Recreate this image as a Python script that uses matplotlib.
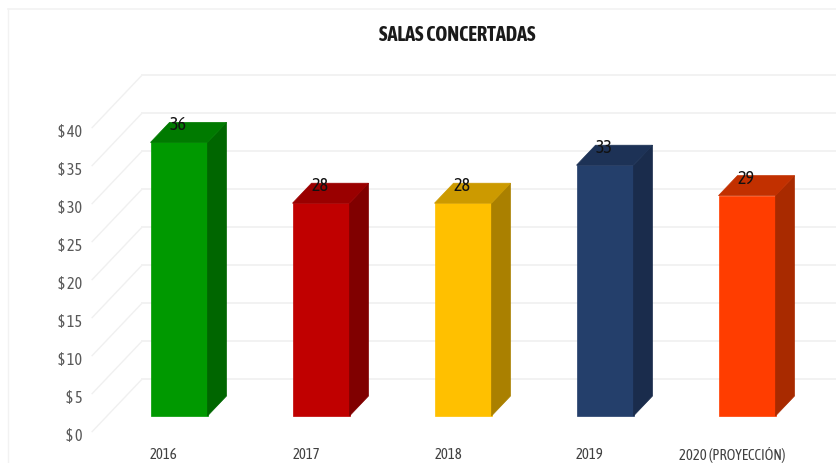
import logging
import matplotlib
matplotlib.use('Agg')
import matplotlib.pyplot as plt
from matplotlib.patches import Polygon

logging.getLogger('matplotlib.font_manager').setLevel(logging.ERROR)

years = ['2016', '2017', '2018', '2019', '2020 (PROYECCIÓN)']
values = [36, 28, 28, 33, 29]
labels = ['36', '28', '28', '33', '29']
front_colors = ['#009900', '#C00000', '#FFC000', '#243F6B', '#FF3D00']
top_colors = ['#007A00', '#9A0000', '#CC9A00', '#1D3256', '#C23000']
side_colors = ['#006600', '#800000', '#AA8000', '#1A2C4C', '#A82A00']
y_ticks = [0, 5, 10, 15, 20, 25, 30, 35, 40]

plt.rcParams['font.family'] = ['Asap Condensed', 'Lato', 'DejaVu Sans']

W, H = 836, 463
fig = plt.figure(figsize=(W / 100, H / 100), dpi=100)
ax = fig.add_axes([0, 0, 1, 1])

# one x unit = 142 px, one y unit = 7.6 px, bar front base sits at pixel (179, 416)
xu, yu = 142, 7.6
ax.set_xlim(-179 / xu, (W - 179) / xu)
ax.set_ylim(-(H - 416) / yu, 416 / yu)
ax.axis('off')

# depth step: one bar depth is 19 px right and 20 px up
ddx, ddy = 19 / xu, 20 / yu
bw = 57 / xu


def pt(x, y, d=0):
    return (x + d * ddx, y + d * ddy)


# outer frame of the chart area
ax.plot([-171 / xu, -171 / xu], [-(H - 416) / yu, 407 / yu], color='#F2F2F2', lw=1)
ax.plot([-171 / xu, (W - 179) / xu], [407 / yu, 407 / yu], color='#F2F2F2', lw=1.2)

# walls and grid
wall_d = 1.85
front_d = -0.78
left = -72 / xu
right = (W - 179) / xu
for t in y_ticks:
    x0, y0 = pt(left, t, front_d)
    x1, y1 = pt(left, t, wall_d)
    ax.plot([x0, x1], [y0, y1], color='#F0F0F0', lw=1, zorder=1)
    ax.plot([x1, right], [y1, y1], color='#F2F2F2', lw=1.4, zorder=1)
    ax.text(-97 / xu, t - 20 / yu, '$ %d' % t, ha='right', va='center',
            fontsize=11.5, color='#595959')

# bars
for i, v in enumerate(values):
    l, r = i - bw / 2, i + bw / 2
    ax.add_patch(Polygon([pt(l, 0), pt(r, 0), pt(r, v), pt(l, v)], color=front_colors[i], lw=0.5, zorder=3))
    ax.add_patch(Polygon([pt(r, 0), pt(r, 0, 1), pt(r, v, 1), pt(r, v)], color=side_colors[i], lw=0.5, zorder=3))
    ax.add_patch(Polygon([pt(l, v), pt(r, v), pt(r, v, 1), pt(l, v, 1)], color=top_colors[i], lw=0.5, zorder=3))
    ax.text(i - 1 / xu, v + 17 / yu, labels[i], ha='center', va='center', fontsize=13, color='#111111', zorder=4)
    ax.text(i - 15 / xu, -39 / yu, years[i], ha='center', va='center', fontsize=10.5, color='#404040')

ax.text(278 / xu, 381 / yu, 'SALAS CONCERTADAS', ha='center', va='center',
        fontsize=14.6, fontweight='bold', color='#1A1A1A')

fig.savefig('out.png', dpi=100)
